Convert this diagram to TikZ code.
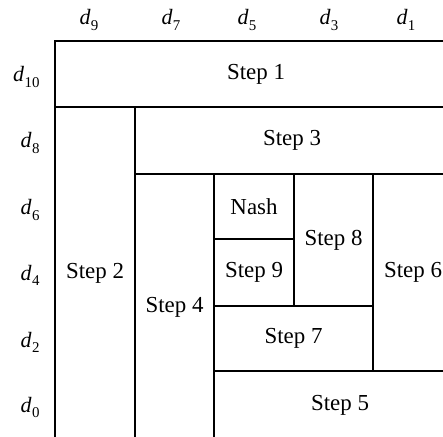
\documentclass[tikz,border=0pt]{standalone}
\usepackage{fontspec}
\setmainfont{Liberation Serif}
\newcommand{\dlab}[1]{\textit{d}\kern0.3pt\raisebox{-0.55ex}{\fontsize{15}{17}\selectfont #1}}
\tikzset{
  cell/.style={rectangle, draw=black, line width=1.3bp, inner sep=0pt, text centered, font=\fontsize{23}{27}\selectfont},
  toplab/.style={anchor=base, font=\fontsize{22}{26}\selectfont},
  sidelab/.style={anchor=base east, font=\fontsize{22}{26}\selectfont}
}
\begin{document}
\begin{tikzpicture}[x=1bp, y=-1bp]
    \useasboundingbox (0,0) rectangle (443,437);
    \clip (0,0) rectangle (443,437);
    % Cells
    \node[cell, minimum width=402bp, minimum height=66bp] (step1) at (256,74) {Step 1};
    \node[cell, minimum width=80bp, minimum height=333bp] (step2) at (95,273.5) {Step 2};
    \node[cell, minimum width=314bp, minimum height=67bp] (step3) at (292,140.5) {Step 3};
    \node[cell, minimum width=79bp, minimum height=266bp] (step4) at (174.5,307) {Step 4};
    \node[cell, minimum width=80bp, minimum height=65bp] (nash) at (254,206.5) {Nash};
    \node[cell, minimum width=80bp, minimum height=67bp] (step9) at (254,272.5) {Step 9};
    \node[cell, minimum width=79bp, minimum height=132bp] (step8) at (333.5,240) {Step 8};
    \node[cell, minimum width=80bp, minimum height=197bp] (step6) at (413,272.5) {Step 6};
    \node[cell, minimum width=159bp, minimum height=65bp] (step7) at (293.5,338.5) {Step 7};
    \node[cell, minimum width=252bp, minimum height=69bp] (step5) at (340,405.5) {Step 5};

    % Column labels
    \node[toplab] (d9) at (89,25) {\dlab{9}};
    \node[toplab] (d7) at (171,25) {\dlab{7}};
    \node[toplab] (d5) at (247,25) {\dlab{5}};
    \node[toplab] (d3) at (329,25) {\dlab{3}};
    \node[toplab] (d1) at (406,25) {\dlab{1}};

    % Row labels
    \node[sidelab] (d10) at (43,82) {\dlab{10}};
    \node[sidelab] (d8) at (43,148) {\dlab{8}};
    \node[sidelab] (d6) at (43,215) {\dlab{6}};
    \node[sidelab] (d4) at (43,280) {\dlab{4}};
    \node[sidelab] (d2) at (43,347) {\dlab{2}};
    \node[sidelab] (d0) at (43,412) {\dlab{0}};
\end{tikzpicture}
\end{document}
